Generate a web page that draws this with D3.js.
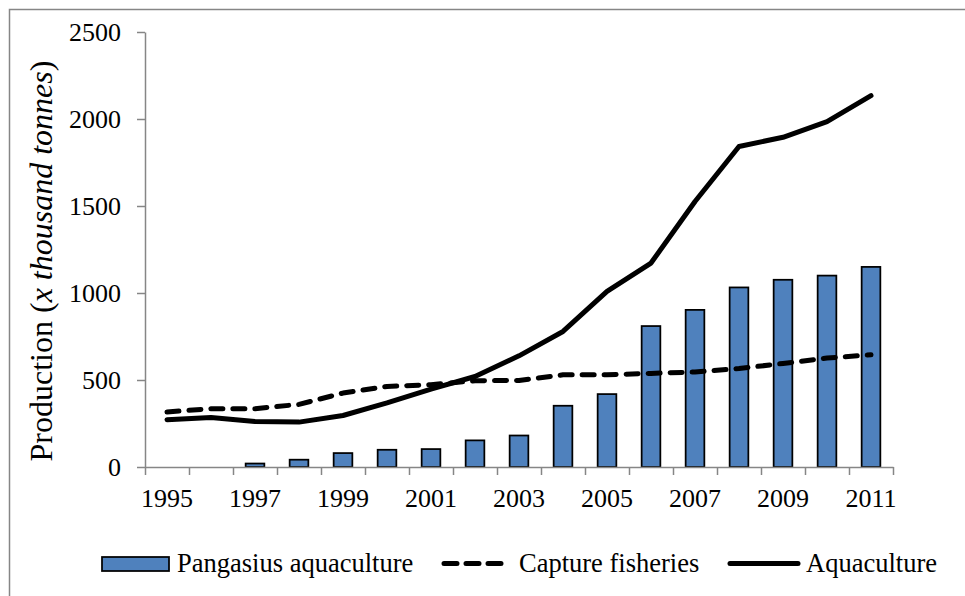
<!DOCTYPE html>
<html>
<head>
<meta charset="utf-8">
<script src="https://cdn.jsdelivr.net/npm/d3@7"></script>
<style>
  body { margin: 0; background: #fff; }
  svg { display: block; }
  text { font-family: "Liberation Serif", "Times New Roman", serif; fill: #000; }
</style>
</head>
<body>
<svg id="chart" width="965" height="596"></svg>
<script>
const years = [1995,1996,1997,1998,1999,2000,2001,2002,2003,2004,2005,2006,2007,2008,2009,2010,2011];
const pangasius = [0,0,20,42,80,99,103,153,181,352,419,810,903,1032,1076,1100,1150];
const capture = [316,335,335,360,425,463,473,496,497,530,530,538,546,566,595,626,645];
const aquaculture = [272,285,262,258,296,368,448,520,639,779,1009,1172,1526,1842,1895,1985,2134];
const yTicks = [0,500,1000,1500,2000,2500];
const xLabelYears = [1995,1997,1999,2001,2003,2005,2007,2009,2011];

const svg = d3.select("#chart");
const axisColor = "#868686";
const plotLeft = 145, plotRight = 893, plotTop = 32, plotBottom = 467;

// outer border
svg.append("rect").attr("x", 9.5).attr("y", 9.5).attr("width", 1000).attr("height", 1000)
  .attr("fill", "none").attr("stroke", axisColor).attr("stroke-width", 1.5);

const x = d3.scaleBand().domain(years).range([plotLeft, plotRight]).paddingInner(0.575).paddingOuter(0.2875);
const xb = d3.scaleLinear().domain([0, years.length]).range([plotLeft, plotRight]);
const y = d3.scaleLinear().domain([0, 2500]).range([plotBottom, plotTop]);

// bars
svg.append("g").selectAll("rect").data(years.map((yr, i) => ({yr, v: pangasius[i]})).filter(d => d.v > 0))
  .join("rect")
  .attr("x", d => x(d.yr)).attr("width", x.bandwidth())
  .attr("y", d => y(d.v)).attr("height", d => y(0) - y(d.v))
  .attr("fill", "#4F81BD").attr("stroke", "#000").attr("stroke-width", 1.75);

// y axis
const yAxis = svg.append("g").attr("transform", `translate(${plotLeft},0)`)
  .call(d3.axisLeft(y).tickValues(yTicks).tickSize(8).tickPadding(16).tickSizeOuter(0).tickFormat(d3.format("d")));
yAxis.select(".domain").attr("stroke", axisColor).attr("stroke-width", 1.5);
yAxis.selectAll(".tick line").attr("stroke", axisColor).attr("stroke-width", 1.5);
yAxis.selectAll("text").style("font-family", "Liberation Serif").style("font-size", "26px").attr("fill", "#000");

// x axis boundary ticks
const xAxis = svg.append("g").attr("transform", `translate(0,${plotBottom})`)
  .call(d3.axisBottom(xb).tickValues(d3.range(0, years.length + 1)).tickSize(8).tickSizeOuter(0).tickFormat(""));
xAxis.select(".domain").attr("stroke", axisColor).attr("stroke-width", 1.5);
xAxis.selectAll(".tick line").attr("stroke", axisColor).attr("stroke-width", 1.5);

// x labels
const xLab = svg.append("g").attr("transform", `translate(0,${plotBottom})`)
  .call(d3.axisBottom(x).tickValues(xLabelYears).tickSize(0).tickPadding(22));
xLab.select(".domain").remove();
xLab.selectAll("text").style("font-family", "Liberation Serif").style("font-size", "26px").attr("fill", "#000");

// lines
const cx = yr => x(yr) + x.bandwidth() / 2;
const lineGen = d3.line().x((d, i) => cx(years[i])).y(d => y(d));
svg.append("path").datum(capture).attr("d", lineGen)
  .attr("fill", "none").attr("stroke", "#000").attr("stroke-width", 5)
  .attr("stroke-dasharray", "12,10").attr("stroke-linecap", "round").attr("stroke-linejoin", "round");
svg.append("path").datum(aquaculture).attr("d", lineGen)
  .attr("fill", "none").attr("stroke", "#000").attr("stroke-width", 5)
  .attr("stroke-linecap", "round").attr("stroke-linejoin", "round");

// y title
const yt = svg.append("text").attr("transform", "translate(52,261) rotate(-90)")
  .attr("text-anchor", "middle").style("font-size", "32px");
yt.append("tspan").text("Production (");
yt.append("tspan").style("font-style", "italic").text("x thousand tonnes");
yt.append("tspan").text(")");

// legend
const lg = svg.append("g");
lg.append("rect").attr("x", 102).attr("y", 557).attr("width", 67).attr("height", 14)
  .attr("fill", "#4F81BD").attr("stroke", "#000").attr("stroke-width", 1.75);
lg.append("text").attr("x", 177).attr("y", 572).style("font-size", "26.5px").text("Pangasius aquaculture");
lg.append("line").attr("x1", 444).attr("x2", 501).attr("y1", 563.5).attr("y2", 563.5)
  .attr("stroke", "#000").attr("stroke-width", 5).attr("stroke-dasharray", "13,9").attr("stroke-linecap", "round");
lg.append("text").attr("x", 519).attr("y", 572).style("font-size", "26.5px").text("Capture fisheries");
lg.append("line").attr("x1", 730).attr("x2", 798).attr("y1", 563.5).attr("y2", 563.5)
  .attr("stroke", "#000").attr("stroke-width", 5).attr("stroke-linecap", "round");
lg.append("text").attr("x", 806).attr("y", 572).style("font-size", "26.5px").text("Aquaculture");
</script>
</body>
</html>
